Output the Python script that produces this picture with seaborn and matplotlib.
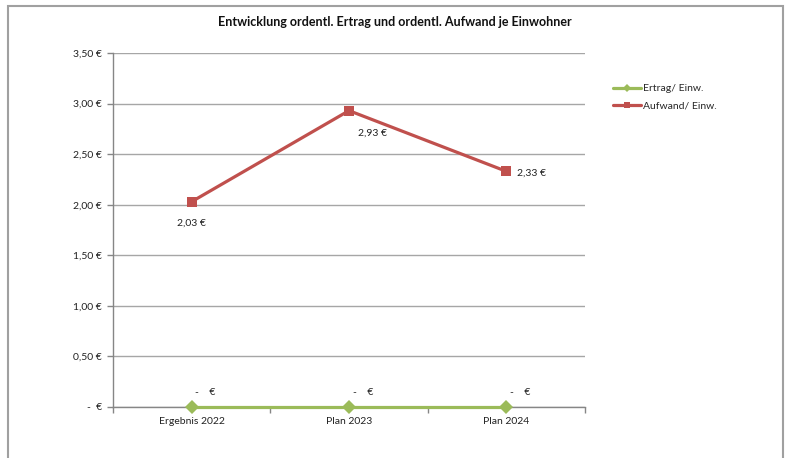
import pandas as pd
import numpy as np
import matplotlib.pyplot as plt
import matplotlib.ticker as mticker
from matplotlib.patches import Rectangle
from matplotlib.lines import Line2D
import seaborn as sns

sns.set_style("white")
plt.rcParams['font.family'] = ['Lato', 'DejaVu Sans']

# Data
categories = ['Ergebnis 2022', 'Plan 2023', 'Plan 2024']
ertrag = [0.0, 0.0, 0.0]
aufwand = [2.03, 2.93, 2.33]
series_names = ['Ertrag/ Einw.', 'Aufwand/ Einw.']

df = pd.DataFrame({
    'Jahr': categories * 2,
    'Wert': ertrag + aufwand,
    'Reihe': [series_names[0]] * 3 + [series_names[1]] * 3,
})

GREEN = '#9BBB59'
RED = '#C0504D'

def euro(v, gap='  '):
    if abs(v) < 1e-9:
        return '-' + gap + '€'
    return f'{v:.2f} €'.replace('.', ',')

fig = plt.figure(figsize=(7.87, 4.58), dpi=100)
ax = fig.add_axes([0.1436, 0.1114, 0.5997, 0.7729])

sns.lineplot(data=df, x='Jahr', y='Wert', hue='Reihe', style='Reihe',
             palette={series_names[0]: GREEN, series_names[1]: RED},
             markers={series_names[0]: 'D', series_names[1]: 's'},
             dashes=False, linewidth=2.3, markersize=7, markeredgewidth=0,
             ax=ax, legend=False, zorder=3, clip_on=False)

ax.set_xlim(-0.5, 2.5)
ax.set_ylim(0, 3.5)
ax.set_yticks(np.arange(0, 3.51, 0.5))
ax.yaxis.set_major_formatter(mticker.FuncFormatter(lambda v, p: euro(v)))
ax.set_xlabel('')
ax.set_ylabel('')

ax.grid(axis='y', color='#a6a6a6', linewidth=1)
ax.set_axisbelow(True)
for s in ['top', 'right']:
    ax.spines[s].set_visible(False)
for s in ['left', 'bottom']:
    ax.spines[s].set_color('#868686')
    ax.spines[s].set_linewidth(1)

ax.tick_params(axis='y', length=4, color='#868686', width=1, pad=4, labelsize=7.5, labelcolor='#222222', left=True)
ax.tick_params(axis='x', which='major', length=0, pad=7, labelsize=7.5, labelcolor='#222222')
ax.set_xticks([-0.5, 0.5, 1.5, 2.5], minor=True)
ax.tick_params(axis='x', which='minor', length=4, color='#868686', width=1, bottom=True)

# data labels
red_offsets = [(0, -15.5, 'center'), (17, -16.5, 'center'), (8, -1, 'left')]
for i, v in enumerate(aufwand):
    dx, dy, ha = red_offsets[i]
    ax.annotate(euro(v), (i, v), xytext=(dx, dy), textcoords='offset points',
                ha=ha, va='center', fontsize=7.5, color='#222222')
for i, v in enumerate(ertrag):
    ax.annotate(euro(v, '    '), (i, v), xytext=(10, 10.5), textcoords='offset points',
                ha='center', va='center', fontsize=7.5, color='#222222')

fig.text(395 / 787, 1 - 22 / 458,
         'Entwicklung ordentl. Ertrag und ordentl. Aufwand je Einwohner',
         fontsize=9, fontweight='bold', ha='center', va='center', color='#111111')

# legend
handles = [Line2D([], [], color=GREEN, lw=2.3, marker='D', markersize=4, markeredgewidth=0),
           Line2D([], [], color=RED, lw=2.3, marker='s', markersize=5, markeredgewidth=0)]
fig.legend(handles, series_names, loc='upper left', bbox_to_anchor=(0.773, 0.826),
           frameon=False, fontsize=7.5, handlelength=2.7, handletextpad=0.2,
           labelspacing=0.75, borderaxespad=0)

# chart border
fig.patches.append(Rectangle((8 / 787, -0.02), 775 / 787, 1 - 6 / 458 + 0.02,
                             transform=fig.transFigure, fill=False,
                             edgecolor='#a0a0a0', linewidth=1.5, zorder=-1))

fig.savefig('out.png', dpi=100)
